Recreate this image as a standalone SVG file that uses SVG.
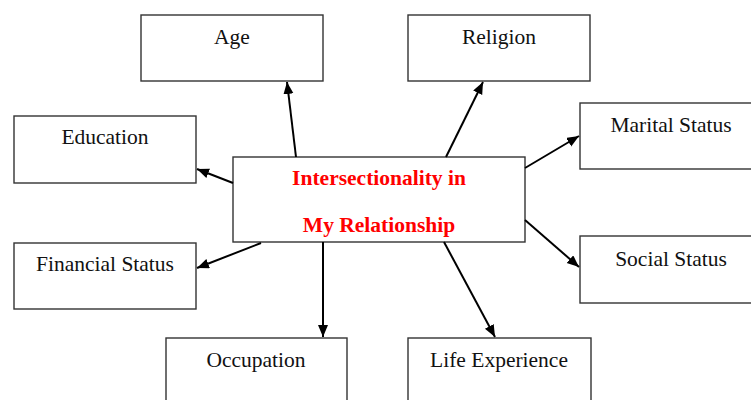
<svg xmlns="http://www.w3.org/2000/svg" width="751" height="400" viewBox="0 0 751 400">
  <style>
    .box { fill: #ffffff; stroke: #333333; stroke-width: 1.4; }
    .lbl { font-family: "Liberation Serif", "Times New Roman", serif; font-size: 21.5px; fill: #111111; text-anchor: middle; }
    .hub { font-family: "Liberation Serif", "Times New Roman", serif; font-size: 21.5px; font-weight: bold; fill: #ff0000; text-anchor: middle; }
    .link { stroke: #000000; stroke-width: 2; fill: none; marker-end: url(#arrow); }
  </style>
  <defs>
    <marker id="arrow" markerUnits="userSpaceOnUse" markerWidth="14" markerHeight="12" refX="12" refY="5" orient="auto">
      <path d="M0,0 L12,5 L0,10 Z" fill="#000000"/>
    </marker>
  </defs>
  <rect width="751" height="400" fill="#ffffff"/>

  <g id="node-age">
    <rect class="box" x="141" y="15" width="182" height="66"/>
    <text class="lbl" x="232" y="44">Age</text>
  </g>
  <g id="node-religion">
    <rect class="box" x="408" y="15" width="182" height="66"/>
    <text class="lbl" x="499" y="44">Religion</text>
  </g>
  <g id="node-education">
    <rect class="box" x="14" y="116" width="182" height="67"/>
    <text class="lbl" x="105" y="144">Education</text>
  </g>
  <g id="node-financial">
    <rect class="box" x="14" y="243" width="182" height="66"/>
    <text class="lbl" x="105" y="271">Financial Status</text>
  </g>
  <g id="node-marital">
    <rect class="box" x="580" y="103" width="182" height="66"/>
    <text class="lbl" x="671" y="132">Marital Status</text>
  </g>
  <g id="node-social">
    <rect class="box" x="580" y="236" width="182" height="67"/>
    <text class="lbl" x="671" y="266">Social Status</text>
  </g>
  <g id="node-occupation">
    <rect class="box" x="166" y="338" width="181" height="80"/>
    <text class="lbl" x="256" y="367">Occupation</text>
  </g>
  <g id="node-life">
    <rect class="box" x="408" y="338" width="183" height="80"/>
    <text class="lbl" x="499" y="367">Life Experience</text>
  </g>
  <g id="node-center">
    <rect class="box" x="233" y="157" width="292" height="85"/>
    <text class="hub" x="379" y="185">Intersectionality in</text>
    <text class="hub" x="379" y="232">My Relationship</text>
  </g>

  <g id="connectors">
    <line class="link" x1="296" y1="157" x2="287" y2="82"/>
    <line class="link" x1="446" y1="157" x2="483" y2="82"/>
    <line class="link" x1="233" y1="183" x2="197" y2="169"/>
    <line class="link" x1="261" y1="243" x2="197" y2="268"/>
    <line class="link" x1="525" y1="168" x2="579" y2="136"/>
    <line class="link" x1="525" y1="220" x2="579" y2="267"/>
    <line class="link" x1="323" y1="242" x2="323" y2="337"/>
    <line class="link" x1="444" y1="242" x2="495" y2="337"/>
  </g>
</svg>
